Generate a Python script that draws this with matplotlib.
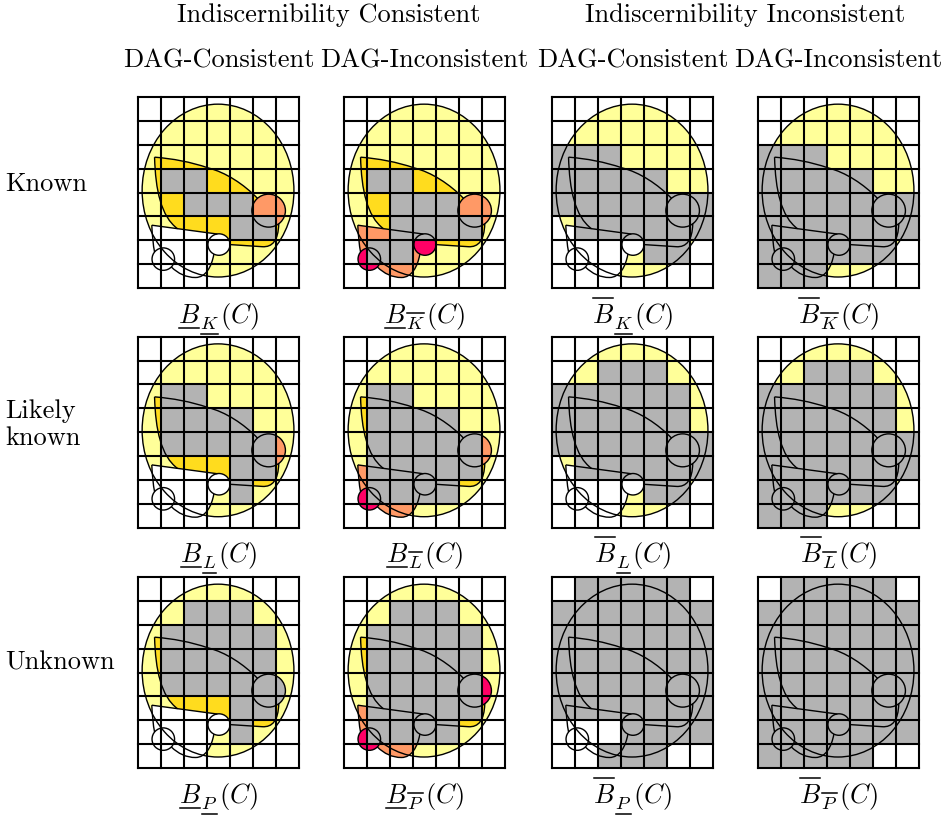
import matplotlib
matplotlib.use("Agg")
import matplotlib.pyplot as plt
from matplotlib.patches import Ellipse, Rectangle, PathPatch
from matplotlib.path import Path
from matplotlib.lines import Line2D
from matplotlib.transforms import IdentityTransform

plt.rcParams["font.family"] = ["cmr10"]
plt.rcParams["mathtext.fontset"] = "cm"
plt.rcParams["axes.unicode_minus"] = False

W, H = 948, 817

# ---- labels -------------------------------------------------------------
group_labels = ["Indiscernibility Consistent", "Indiscernibility Inconsistent"]
column_labels = ["DAG-Consistent", "DAG-Inconsistent", "DAG-Consistent", "DAG-Inconsistent"]
row_labels = ["Known", "Likely\nknown", "Unknown"]
row_subscripts = ["K", "L", "P"]
# (bar over B, bar over subscript) for each column; False means underline
caption_bars = [(False, False), (False, True), (True, False), (True, True)]

# ---- granules covered by each approximation ('#' = grey cell) ------------
known_lower_cons = [".......", ".......", ".......", ".##....",
                    "..###..", "....##.", ".......", "......."]
known_lower_incons = [".......", ".......", ".......", ".##....",
                      "..###..", "..####.", ".##....", "......."]
known_upper_cons = [".......", ".......", "###....", "#####..",
                    "#######", ".######", "....##.", "......."]
known_upper_incons = [".......", ".......", "###....", "#####..",
                      "#######", "#######", "######.", "###...."]
likely_lower_cons = [".......", ".......", ".##....", ".####..",
                     ".#####.", "....##.", "....#..", "......."]
likely_lower_incons = [".......", ".......", ".##....", ".####..",
                       ".#####.", ".#####.", ".####..", "......."]
likely_upper_cons = [".......", "..###..", "######.", "######.",
                     "#######", ".######", "....##.", "......."]
likely_upper_incons = [".......", "..###..", "######.", "######.",
                       "#######", "#######", "######.", "###...."]
unknown_lower_cons = [".......", "..###..", ".#####.", ".#####.",
                      ".#####.", "....##.", "....#..", "......."]
unknown_lower_incons = [".......", "..###..", ".#####.", ".#####.",
                        ".#####.", ".#####.", ".####..", "......."]
unknown_upper_cons = [".#####.", "#######", "#######", "#######",
                      "#######", "#######", "...####", "..###.."]
unknown_upper_incons = [".#####.", "#######", "#######", "#######",
                        "#######", "#######", "#######", "#####.."]

grids = [
    [known_lower_cons, known_lower_incons, known_upper_cons, known_upper_incons],
    [likely_lower_cons, likely_lower_incons, likely_upper_cons, likely_upper_incons],
    [unknown_lower_cons, unknown_lower_incons, unknown_upper_cons, unknown_upper_incons],
]

# ---- colours --------------------------------------------------------------
GREY = "#b3b3b3"
PALE = "#ffff99"
GOLD = "#ffdc1e"
ORANGE = "#ff9966"
MAGENTA = "#ff0066"
WHITE = "#ffffff"

# fills: (region A, region B, middle circle, lower-left circle, right circle)
fills = [
    [(GOLD, WHITE, WHITE, WHITE, ORANGE), (GOLD, ORANGE, MAGENTA, MAGENTA, ORANGE),
     (None, WHITE, WHITE, WHITE, None), (None, None, None, None, None)],
    [(GOLD, WHITE, WHITE, WHITE, ORANGE), (GOLD, ORANGE, MAGENTA, MAGENTA, ORANGE),
     (None, WHITE, WHITE, WHITE, None), (None, None, None, None, None)],
    [(GOLD, WHITE, WHITE, WHITE, GREY), (GOLD, ORANGE, MAGENTA, MAGENTA, MAGENTA),
     (None, WHITE, WHITE, WHITE, None), (None, None, None, None, None)],
]

# ---- geometry of the sketch (grid units, y downward) ---------------------
NCOL, NROW = 7, 8
big_circle = ((3.48, 3.92), 6.6, 7.24)
right_circle = ((5.68, 4.76), 1.46, 1.38)
mid_circle = ((3.52, 6.18), 0.96, 0.90)
ll_circle = ((1.10, 6.79), 0.98, 0.94)

a_top = [(0.72, 2.52), (1.5, 2.58), (2.3, 2.72), (3.05, 2.97),
         (3.8, 3.15), (4.6, 3.65), (5.2, 4.25)]
a_left = [(0.72, 2.52), (0.76, 3.9), (1.0, 5.0), (1.72, 5.52)]
a_bottom = [(3.97, 6.18), (5.4, 6.27), (5.85, 6.3), (6.1, 6.0), (6.12, 5.31)]
b_top = [(0.6, 5.37), (3.45, 5.74)]
b_left = [(0.6, 5.37), (0.62, 5.8), (0.66, 6.2), (0.72, 6.49)]
b_bottom = [(1.45, 7.12), (1.75, 7.4), (2.1, 7.56), (2.5, 7.56),
            (2.95, 7.56), (3.2, 7.1), (3.3, 6.58)]

C4, LT, MT = Path.CURVE4, Path.LINETO, Path.MOVETO

path_a_top = Path(a_top, [MT] + [C4] * 6)
path_a_left = Path(a_left, [MT, C4, C4, C4])
path_a_bottom = Path(a_bottom, [MT, LT, C4, C4, C4])
path_b_top = Path(b_top, [MT, LT])
path_b_left = Path(b_left, [MT, C4, C4, C4])
path_b_bottom = Path(b_bottom, [MT] + [C4] * 6)

fill_a = Path(
    a_top + [a_bottom[4]] + a_bottom[3::-1][:3] + [a_bottom[0], b_top[1], a_left[3]]
    + a_left[2::-1] + [a_top[0]],
    [MT] + [C4] * 6 + [LT] + [C4] * 3 + [LT, LT, LT] + [C4] * 3 + [Path.CLOSEPOLY])
fill_b = Path(
    b_top + [b_bottom[6]] + b_bottom[5::-1] + [b_left[3]] + b_left[2::-1] + [b_top[0]],
    [MT, LT, LT] + [C4] * 6 + [LT] + [C4] * 3 + [Path.CLOSEPOLY])

col_left = [138, 344, 552, 758]
row_top = [97, 336.7, 577]
panel_w, panel_h = 161, 191

fig = plt.figure(figsize=(W / 100, H / 100), dpi=100)
fig.patch.set_facecolor("white")
renderer = fig.canvas.get_renderer()

LW_SHAPE = 1.0
LW_GRID = 1.5

for r in range(3):
    for c in range(4):
        ax = fig.add_axes([col_left[c] / W, 1 - (row_top[r] + panel_h) / H,
                           panel_w / W, panel_h / H])
        ax.set_xlim(0, NCOL)
        ax.set_ylim(NROW, 0)
        ax.axis("off")
        fa, fb, fm, fl, fr = fills[r][c]

        ax.add_patch(Ellipse(*big_circle, facecolor=PALE, edgecolor="none", zorder=1))
        if fa:
            ax.add_patch(PathPatch(fill_a, facecolor=fa, edgecolor="none", zorder=2))
        if fb:
            ax.add_patch(PathPatch(fill_b, facecolor=fb, edgecolor="none", zorder=3))
        for geom, fc in ((right_circle, fr), (mid_circle, fm), (ll_circle, fl)):
            if fc:
                ax.add_patch(Ellipse(*geom, facecolor=fc, edgecolor="none", zorder=4))

        # grey granules
        for i, row in enumerate(grids[r][c]):
            for j, ch in enumerate(row):
                if ch == "#":
                    ax.add_patch(Rectangle((j, i), 1, 1, facecolor=GREY,
                                           edgecolor="none", zorder=5))

        # outlines
        for geom in (big_circle, right_circle, mid_circle, ll_circle):
            ax.add_patch(Ellipse(*geom, facecolor="none", edgecolor="black",
                                 lw=LW_SHAPE, zorder=6))
        for p in (path_a_top, path_a_left, path_a_bottom,
                  path_b_top, path_b_left, path_b_bottom):
            ax.add_patch(PathPatch(p, facecolor="none", edgecolor="black",
                                   lw=LW_SHAPE, zorder=6))

        # grid
        for k in range(NCOL + 1):
            ax.plot([k, k], [0, NROW], color="black", lw=LW_GRID, zorder=7,
                    clip_on=False, solid_capstyle="projecting")
        for k in range(NROW + 1):
            ax.plot([0, NCOL], [k, k], color="black", lw=LW_GRID, zorder=7,
                    clip_on=False, solid_capstyle="projecting")

# ---- header and row labels ------------------------------------------------
ident = IdentityTransform()
TXT = 19

def put(x, y_img, s, size=TXT, ha="center"):
    return fig.text(x, H - y_img, s, fontsize=size, ha=ha, va="baseline",
                    transform=ident)

put(329, 22, group_labels[0])
put(745, 22, group_labels[1])
for c in range(4):
    put(col_left[c] + panel_w / 2, 68, column_labels[c])

row_label_base = [191, 418, 669]
for r, lab in enumerate(row_labels):
    for k, line in enumerate(lab.split("\n")):
        put(5, row_label_base[r] + 27 * k, line, ha="left")

# ---- captions -------------------------------------------------------------
def caption(xc, base, sub, bar_main_over, bar_sub_over):
    main = put(0, base, r"$B$", ha="left")
    subt = put(0, base + 6, "$" + sub + "$", size=13.5, ha="left")
    tail = put(0, base, r"$(C)$", ha="left")
    w1 = main.get_window_extent(renderer).width
    w2 = subt.get_window_extent(renderer).width
    w3 = tail.get_window_extent(renderer).width
    gap = 1.0
    total = w1 + w2 + w3 + 2 * gap
    x0 = xc - total / 2
    main.set_x(x0)
    subt.set_x(x0 + w1 + gap - 1)
    tail.set_x(x0 + w1 + w2 + 2 * gap)
    # bars
    ym = base - 25 if bar_main_over else base + 4.5
    fig.add_artist(Line2D([x0 + 1, x0 + w1 - 1], [H - ym, H - ym], color="black",
                          lw=1.1, transform=ident))
    ys = base + 6 - 16 if bar_sub_over else base + 6 + 4.5
    xs0 = x0 + w1 + gap - 1
    fig.add_artist(Line2D([xs0 + 1, xs0 + w2 - 0.5], [H - ys, H - ys], color="black",
                          lw=1.1, transform=ident))

caption_base = [323, 562, 803]
for r in range(3):
    for c in range(4):
        caption(col_left[c] + panel_w / 2, caption_base[r], row_subscripts[r],
                *caption_bars[c])

fig.savefig("out.png", dpi=100)
